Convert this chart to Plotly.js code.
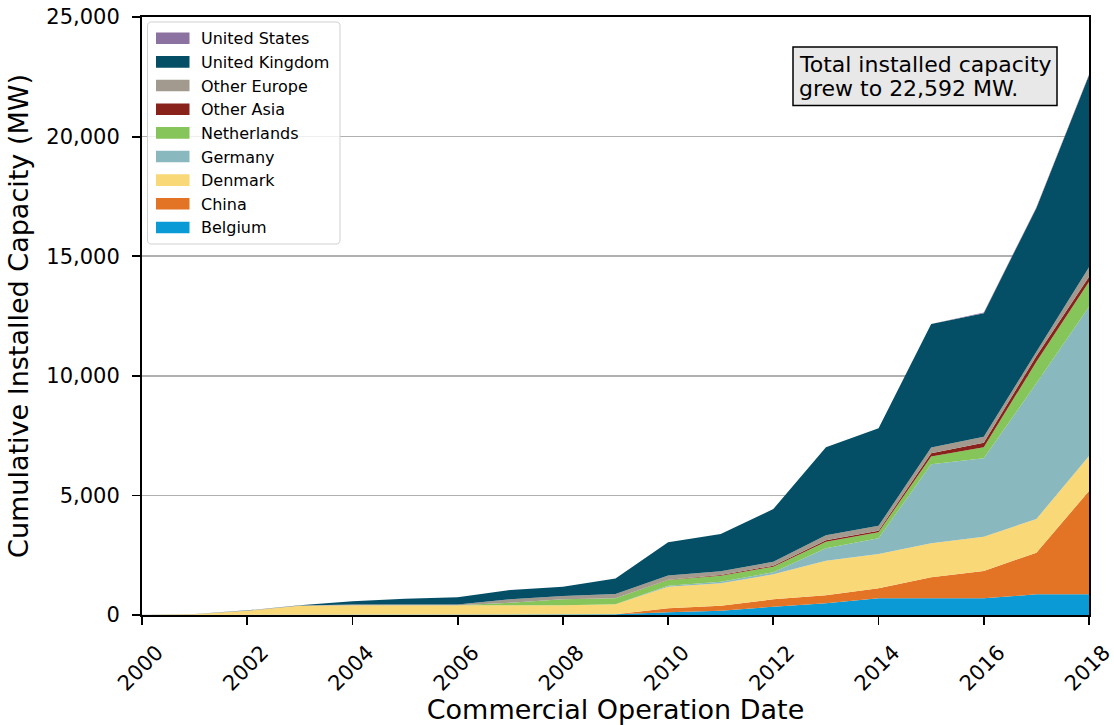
<!DOCTYPE html>
<html>
<head>
<meta charset="utf-8">
<script src="https://cdn.plot.ly/plotly-3.0.1.min.js"></script>
<style>html,body{margin:0;padding:0;background:#fff;}#chart{width:1114px;height:725px;}</style>
</head>
<body>
<div id="chart"></div>
<script>
const years = [2000,2001,2002,2003,2004,2005,2006,2007,2008,2009,2010,2011,2012,2013,2014,2015,2016,2017,2018];
const belgium     = [0,0,0,0,0,0,0,0,0,30,110,181,348,488,697,697,697,864,864];
const china       = [0,0,0,0,0,0,0,0,0,0,170,209,307,334,418,878,1142,1742,4320];
const denmark     = [5,30,175,384,404,404,404,404,404,416,905,934,1045,1449,1440,1425,1436,1407,1463];
const germany     = [0,0,0,0,0,0,0,0,0,0,40,70,84,516,655,3303,3275,5673,6243];
const netherlands = [0,0,0,0,0,0,0,112,251,251,237,250,237,279,251,320,460,904,1045];
const otherAsia   = [0,0,0,0,0,0,0,0,0,0,10,25,40,60,60,140,195,238,209];
const otherEurope = [5,8,15,10,40,40,40,139,139,181,180,160,168,209,209,237,250,180,392];
const unitedKingdom = [0,4,5,10,126,236,295,390,390,653,1388,1557,2202,3674,4074,5165,5165,6012,8026];
const unitedStates  = [0,0,0,0,0,0,0,0,0,0,0,0,0,0,0,0,30,30,30];

const seriesNames = ["Belgium","China","Denmark","Germany","Netherlands","Other Asia","Other Europe","United Kingdom","United States"];
const seriesValues = [belgium,china,denmark,germany,netherlands,otherAsia,otherEurope,unitedKingdom,unitedStates];
const seriesColors = ["#0a9bd6","#e37426","#f9d878","#89b8bf","#85c55a","#8a221c","#a39a8f","#054f66","#8b72a0"];

const xTicks = [2000,2002,2004,2006,2008,2010,2012,2014,2016,2018];
const yTicks = [0,5000,10000,15000,20000,25000];
const annotationLines = ["Total installed capacity", "grew to 22,592 MW."];

// ---- layout geometry (styles) ----
const W = 1114, H = 725;
const M = {l: 142, r: 25, t: 17, b: 110};
const PW = W - M.l - M.r, PH = H - M.t - M.b;
const px = x => (x - M.l) / PW;          // pixel -> paper x
const py = y => 1 - (y - M.t) / PH;      // pixel -> paper y
const font = "DejaVu Sans, sans-serif";

const traces = seriesNames.map((n,i)=>({
  x: years, y: seriesValues[i], name: n, type: 'scatter', mode: 'lines',
  stackgroup: 'one', line: {width: 0, color: seriesColors[i]},
  fillcolor: seriesColors[i], showlegend: false, hoverinfo: 'x+y+name'
}));

// ---- manual legend (matplotlib-like patches) ----
const shapes = [];
const annotations = [];
function roundRectPath(x0, y0, x1, y1, r) {
  const p = (x, y) => px(x).toFixed(5) + ',' + py(y).toFixed(5);
  return 'M' + p(x0 + r, y0) + ' L' + p(x1 - r, y0) + ' Q' + p(x1, y0) + ' ' + p(x1, y0 + r) +
         ' L' + p(x1, y1 - r) + ' Q' + p(x1, y1) + ' ' + p(x1 - r, y1) +
         ' L' + p(x0 + r, y1) + ' Q' + p(x0, y1) + ' ' + p(x0, y1 - r) +
         ' L' + p(x0, y0 + r) + ' Q' + p(x0, y0) + ' ' + p(x0 + r, y0) + ' Z';
}
shapes.push({type: 'path', xref: 'paper', yref: 'paper', layer: 'above',
  path: roundRectPath(147.5, 22, 340, 244, 4),
  fillcolor: 'rgba(255,255,255,0.8)', line: {color: '#d0d0d0', width: 1}});
const legendOrder = seriesNames.map((n,i)=>i).reverse();
legendOrder.forEach((idx, k) => {
  const cy = 38.2 + k * 23.66;
  shapes.push({type: 'rect', xref: 'paper', yref: 'paper', layer: 'above',
    x0: px(156), x1: px(189.5), y0: py(cy - 5.8), y1: py(cy + 5.8),
    fillcolor: seriesColors[idx], line: {width: 0}});
  annotations.push({xref: 'paper', yref: 'paper', x: px(199), y: py(cy + 0.5),
    xanchor: 'left', yanchor: 'middle', showarrow: false, text: seriesNames[idx],
    font: {family: font, size: 16, color: '#000'}});
});

// ---- annotation box ----
shapes.push({type: 'rect', xref: 'paper', yref: 'paper', layer: 'above',
  x0: px(793), x1: px(1057), y0: py(47), y1: py(105.5),
  fillcolor: '#e8e8e8', line: {color: '#000', width: 1.5}});
annotationLines.forEach((t, k) => {
  annotations.push({xref: 'paper', yref: 'paper', x: px(797), y: py(64 + k * 24),
    xanchor: 'left', yanchor: 'middle', showarrow: false, text: t,
    font: {family: font, size: 22, color: '#000'}});
});

const layout = {
  width: W, height: H,
  margin: M,
  paper_bgcolor: '#fff', plot_bgcolor: '#fff',
  font: {family: font, color: '#000'},
  showlegend: false,
  xaxis: {
    range: [2000, 2018], tickvals: xTicks, ticktext: xTicks.map(String),
    tickangle: -45, ticks: 'outside', ticklen: 8, tickwidth: 1.8, tickcolor: '#000',
    ticklabelshift: 15, ticklabelstandoff: 7, ticklabeloverflow: 'allow',
    showline: true, linecolor: '#000', linewidth: 2, mirror: true,
    showgrid: false, zeroline: false,
    tickfont: {family: font, size: 21, color: '#000'},
    title: {text: 'Commercial Operation Date', font: {family: font, size: 27, color: '#000'}, standoff: 8}
  },
  yaxis: {
    range: [0, 25000], tickvals: yTicks, tickformat: ',d',
    ticks: 'outside', ticklen: 8, tickwidth: 1.8, tickcolor: '#000',
    ticklabelstandoff: 8,
    showline: true, linecolor: '#000', linewidth: 2, mirror: true,
    showgrid: true, gridcolor: '#b0b0b0', gridwidth: 1.6, zeroline: false,
    tickfont: {family: font, size: 21, color: '#000'},
    title: {text: 'Cumulative Installed Capacity (MW)', font: {family: font, size: 27, color: '#000'}, standoff: 10}
  },
  shapes: shapes,
  annotations: annotations
};

Plotly.newPlot('chart', traces, layout, {displayModeBar: false, staticPlot: true});
</script>
</body>
</html>
